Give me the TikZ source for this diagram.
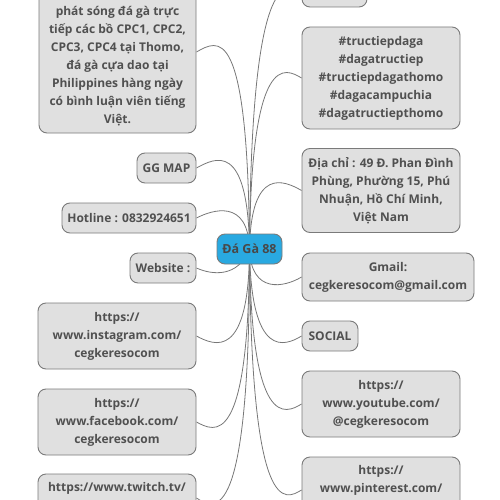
\documentclass[tikz,border=0pt]{standalone}
\usepackage{fontspec}
\setmainfont{Open Sans}
\usetikzlibrary{backgrounds}
\definecolor{boxfill}{HTML}{E0E0E0}
\definecolor{boxline}{HTML}{7A7A7A}
\definecolor{txtcol}{HTML}{505050}
\definecolor{cfill}{HTML}{29A9E1}
\definecolor{conncol}{HTML}{777777}
\tikzset{
  topic/.style={draw=boxline, line width=0.9pt, fill=boxfill, rounded corners=8pt, inner sep=0pt, align=center, text=txtcol, font=\fontsize{12}{18}\selectfont\bfseries},
  lbl/.style={inner sep=0pt, align=center, text=txtcol, font=\fontsize{12}{18}\selectfont\bfseries},
  central/.style={draw=boxline, line width=0.9pt, fill=cfill, rounded corners=8pt, inner sep=0pt, align=center, text=txtcol!90!black, font=\fontsize{12.5}{18}\selectfont\bfseries},
  conn/.style={draw=conncol, line width=0.8pt}
}
\begin{document}
\begin{tikzpicture}[x=1pt,y=-1pt]
\useasboundingbox (0,0) rectangle (500,500);
% central
\node[central, minimum width=65pt, minimum height=30pt] (c) at (249.5,249) {Đá Gà 88};
% left topics
\node[topic, minimum width=157pt, minimum height=193pt] (big) at (117.5,36.5) {};
\node[lbl, anchor=south] (bigtxt) at (117.5,126) {phát sóng đá gà trực\\tiếp các bồ CPC1, CPC2,\\CPC3, CPC4 tại Thomo,\\đá gà cựa dao tại\\Philippines hàng ngày\\có bình luận viên tiếng\\Việt.};
\node[topic, minimum width=59pt, minimum height=30pt] (gg) at (166.5,168) {GG MAP};
\node[topic, minimum width=134pt, minimum height=30pt] (hot) at (129,218) {Hotline : 0832924651};
\node[topic, minimum width=66pt, minimum height=30pt] (web) at (163,268) {Website :};
\node[topic, minimum width=158pt, minimum height=66pt] (ins) at (117,336) {https://\\www.instagram.com/\\cegkeresocom};
\node[topic, minimum width=158pt, minimum height=66pt] (fb) at (117,422) {https://\\www.facebook.com/\\cegkeresocom};
\node[topic, minimum width=158pt, minimum height=48pt] (tw) at (117,498) {};
\node[lbl] (twtxt) at (117,488) {https://www.twitch.tv/};
% right topics
\node[topic, minimum width=65pt, minimum height=30pt] (r0) at (334.5,-8) {};
\node[topic, minimum width=158pt, minimum height=102pt] (hash) at (381,78) {\#tructiepdaga\\\#dagatructiep\\\#tructiepdagathomo\\\#dagacampuchia\\\#dagatructiepthomo};
\node[topic, minimum width=158pt, minimum height=84pt] (addr) at (381,190.5) {Địa chỉ : 49 Đ. Phan Đình\\Phùng, Phường 15, Phú\\Nhuận, Hồ Chí Minh,\\Việt Nam};
\node[topic, minimum width=172pt, minimum height=48pt] (gm) at (388,277) {Gmail:\\cegkeresocom@gmail.com};
\node[topic, minimum width=56pt, minimum height=30pt] (soc) at (330,336) {SOCIAL};
\node[topic, minimum width=158pt, minimum height=66pt] (yt) at (381,404) {https://\\www.youtube.com/\\@cegkeresocom};
\node[topic, minimum width=158pt, minimum height=66pt] (pin) at (381,490) {};
\node[lbl] (pintxt) at (381,480) {https://\\www.pinterest.com/};
% connectors
\begin{scope}[on background layer]
\draw[conn] (c.center) .. controls (248,20) and (218,40) .. (big.east |- 0,52);
\draw[conn] (c.center) .. controls (248,140) and (215,158) .. (gg.east);
\draw[conn] (c.center) .. controls (248,198) and (212,210) .. (hot.east);
\draw[conn] (c.center) .. controls (238,278) and (212,275) .. (web.east);
\draw[conn] (c.center) .. controls (249,360) and (215,346) .. (ins.east);
\draw[conn] (c.center) .. controls (249,450) and (215,432) .. (fb.east);
\draw[conn] (c.center) .. controls (250,530) and (215,510) .. (tw.east);
\draw[conn] (c.center) .. controls (251,-30) and (285,-18) .. (r0.west);
\draw[conn] (c.center) .. controls (251,50) and (285,68) .. (hash.west);
\draw[conn] (c.center) .. controls (251,165) and (285,181) .. (addr.west);
\draw[conn] (c.center) .. controls (251,295) and (285,287) .. (gm.west);
\draw[conn] (c.center) .. controls (251,360) and (285,346) .. (soc.west);
\draw[conn] (c.center) .. controls (251,430) and (285,414) .. (yt.west);
\draw[conn] (c.center) .. controls (251,520) and (285,500) .. (pin.west);
\end{scope}
\end{tikzpicture}
\end{document}
